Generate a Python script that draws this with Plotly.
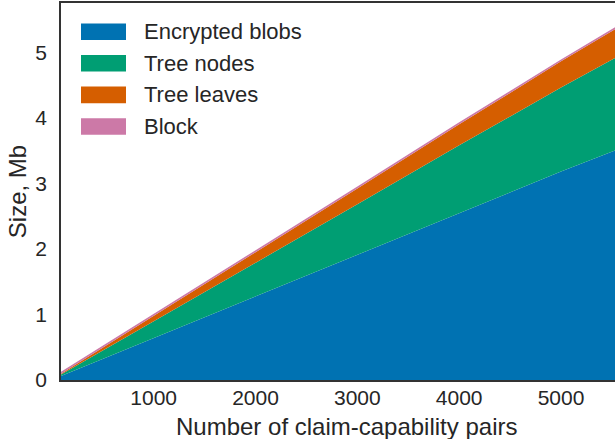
import plotly.graph_objects as go

# Data
pairs = [90, 1000, 2000, 3000, 4000, 5000, 5530]
encrypted_blobs = [0.06, 0.64, 1.27, 1.91, 2.55, 3.18, 3.50]
tree_nodes = [0.025, 0.256, 0.51, 0.77, 1.03, 1.28, 1.41]
tree_leaves = [0.01, 0.08, 0.16, 0.24, 0.32, 0.40, 0.44]
block = [0.03, 0.03, 0.03, 0.03, 0.03, 0.03, 0.03]

series_names = ["Encrypted blobs", "Tree nodes", "Tree leaves", "Block"]
series_values = [encrypted_blobs, tree_nodes, tree_leaves, block]
colors = ["#0072B2", "#009E73", "#D55E00", "#CC79A7"]

x_ticks = [1000, 2000, 3000, 4000, 5000]
y_ticks = [0, 1, 2, 3, 4, 5]

FONT = "Liberation Sans, Arial, sans-serif"
TEXT = "#262626"

W, H = 615, 439
ML, MR, MT, MB = 61, 0, 3, 59
PW, PH = W - ML - MR, H - MT - MB


def px_to_paper(px, py):
    return (px - ML) / PW, (H - MB - py) / PH


fig = go.Figure()
for name, vals, col in zip(series_names, series_values, colors):
    fig.add_trace(go.Scatter(
        x=pairs, y=vals, name=name, mode="lines",
        stackgroup="one", line=dict(width=0, color=col),
        fillcolor=col, showlegend=False,
    ))

# Legend drawn as swatches + labels (matplotlib style patches)
shapes = []
annotations = []
for i, (name, col) in enumerate(zip(series_names, colors)):
    cy = 31.7 + i * 31.6
    x0, y0 = px_to_paper(81, cy + 8.3)
    x1, y1 = px_to_paper(126, cy - 8.3)
    shapes.append(dict(type="rect", xref="paper", yref="paper",
                       x0=x0, x1=x1, y0=y0, y1=y1,
                       fillcolor=col, line=dict(width=0), layer="above"))
    tx, ty = px_to_paper(142, cy)
    annotations.append(dict(text=name, xref="paper", yref="paper",
                            x=tx, y=ty, xanchor="left", yanchor="middle",
                            showarrow=False,
                            font=dict(size=22, color=TEXT, family=FONT)))

# x-axis title (the original axes extend slightly past the cropped right edge)
tx, ty = px_to_paper(346, 426)
annotations.append(dict(text="Number of claim-capability pairs", xref="paper", yref="paper",
                        x=tx, y=ty, xanchor="center", yanchor="middle", showarrow=False,
                        font=dict(size=24, color=TEXT, family=FONT)))

fig.update_layout(
    width=W, height=H,
    margin=dict(l=ML, r=MR, t=MT, b=MB),
    paper_bgcolor="white", plot_bgcolor="white",
    font=dict(family=FONT, color=TEXT, size=21),
    showlegend=False,
    shapes=shapes, annotations=annotations,
    xaxis=dict(
        range=[90, 5530], tickvals=x_ticks, ticks="", showgrid=False,
        zeroline=False, showline=True, linecolor="#333333", linewidth=1.5,
        mirror=True, tickfont=dict(size=21, color=TEXT), ticklabelstandoff=-2,
    ),
    yaxis=dict(
        range=[0, 5.75], tickvals=y_ticks, ticks="", showgrid=False,
        zeroline=False, showline=True, linecolor="#333333", linewidth=1.5,
        mirror=False, tickfont=dict(size=21, color=TEXT), ticklabelstandoff=8,
        title=dict(text="Size, Mb", font=dict(size=24, color=TEXT), standoff=2),
    ),
)

fig.write_html("out.html", config={"displayModeBar": False},
               post_script="document.body.style.margin='0';document.body.style.overflow='hidden';")
